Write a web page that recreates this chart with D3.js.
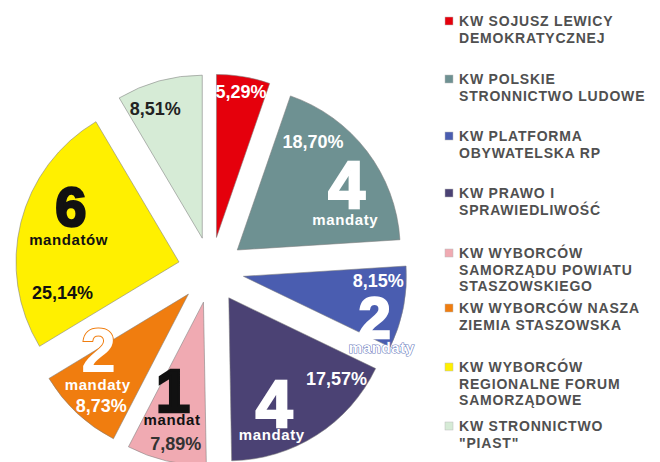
<!DOCTYPE html>
<html>
<head>
<meta charset="utf-8">
<script src="https://cdn.jsdelivr.net/npm/d3@7"></script>
<style>
  body { margin: 0; background: #fff; }
  svg { display: block; font-family: "Liberation Sans", Arial, sans-serif; }
</style>
</head>
<body>
<svg id="chart"></svg>
<script>
// Wyniki wyborów - udział procentowy i mandaty
const parties = [
    ["KW SOJUSZ LEWICY", "DEMOKRATYCZNEJ"],
    ["KW POLSKIE", "STRONNICTWO LUDOWE"],
    ["KW PLATFORMA", "OBYWATELSKA RP"],
    ["KW PRAWO I", "SPRAWIEDLIWOŚĆ"],
    ["KW WYBORCÓW", "SAMORZĄDU POWIATU", "STASZOWSKIEGO"],
    ["KW WYBORCÓW NASZA", "ZIEMIA STASZOWSKA"],
    ["KW WYBORCÓW", "REGIONALNE FORUM", "SAMORZĄDOWE"],
    ["KW STRONNICTWO", "\"PIAST\""]
];
const shares = [5.29, 18.70, 8.15, 17.57, 7.89, 8.73, 25.14, 8.51];
const seats = [0, 4, 2, 4, 1, 2, 6, 0];
const seatWords = ["", "mandaty", "mandaty", "mandaty", "mandat", "mandaty", "mandatów", ""];

const colors = ["#e5000c", "#6e9192", "#4a5db0", "#4b4274", "#f0aab2", "#f07d0f", "#fff000", "#d6ebd6"];

// label placement inside each slice: [fraction of slice angle, fraction of radius]
const pctPos = [[0.525, 0.87], [0.26, 0.78], [0.28, 0.83], [0.21, 0.85], [0.41, 0.92], [0.29, 0.90], [0.15, 0.75], [0.32, 0.81]];
const numPos = [null, [0.74, 0.72, 66], [0.98, 0.89, 58], [0.71, 0.84, 66], [0.58, 0.70, 62], [0.69, 0.73, 63], [0.55, 0.70, 56], null];
const wordPos = [null, [0.86, 0.68], [1.11, 0.97], [0.75, 0.91], [0.54, 0.78], [0.51, 0.81], [0.44, 0.685], null];
const legendY = [26, 84, 141, 198, 258, 313, 372, 431];

const W = 660, H = 462;
const cx = 211, cy = 270, R = 163, explode = 33;

const svg = d3.select("#chart").attr("width", W).attr("height", H);

const pie = d3.pie().sort(null).value(d => d)(shares);
const arc = d3.arc().innerRadius(0).outerRadius(R);

const fmt = v => d3.format(".2f")(v).replace(".", ",") + "%";

const g = svg.append("g").attr("transform", `translate(${cx},${cy})`);

const slices = g.selectAll(".slice")
    .data(pie)
    .enter().append("g")
    .attr("class", "slice")
    .attr("transform", d => {
        const a = (d.startAngle + d.endAngle) / 2;
        return `translate(${explode * Math.sin(a)},${-explode * Math.cos(a)})`;
    });

slices.append("path")
    .attr("d", arc)
    .attr("fill", (d, i) => colors[i])
    .attr("stroke", "#7d7d7d")
    .attr("stroke-opacity", 0.7)
    .attr("stroke-width", 0.8);

// point inside a slice given fraction of angle and radius
function polar(d, t, rf) {
    const a = d.startAngle + t * (d.endAngle - d.startAngle);
    return [rf * R * Math.sin(a), -rf * R * Math.cos(a)];
}

const darkText = i => (i === 4 || i === 6 || i === 7);

slices.each(function (d, i) {
    const s = d3.select(this);
    const txtColor = darkText(i) ? (i === 7 ? "#222" : "#111") : "#fff";

    const p = polar(d, pctPos[i][0], pctPos[i][1]);
    s.append("text")
        .attr("x", p[0]).attr("y", p[1])
        .attr("text-anchor", "middle")
        .style("font-size", "18px")
        .style("font-weight", "bold")
        .attr("fill", i === 4 ? "#333" : txtColor)
        .text(fmt(shares[i]));

    if (numPos[i]) {
        const n = polar(d, numPos[i][0], numPos[i][1]);
        const t = s.append("text")
            .attr("x", n[0]).attr("y", n[1])
            .attr("text-anchor", "middle")
            .style("font-size", numPos[i][2] + "px")
            .style("font-weight", "bold")
            .attr("fill", txtColor)
            .attr("stroke", txtColor)
            .attr("stroke-width", 2.5)
            .text(seats[i]);
        if (i === 5) t.attr("stroke", colors[5]).attr("stroke-width", 2).attr("paint-order", "stroke");

        const w = polar(d, wordPos[i][0], wordPos[i][1]);
        const wt = s.append("text")
            .attr("x", w[0]).attr("y", w[1])
            .attr("text-anchor", "middle")
            .style("font-size", "15px")
            .style("font-weight", "bold")
            .style("letter-spacing", "0.6px")
            .attr("fill", txtColor)
            .text(seatWords[i]);
        if (i === 2) wt.attr("stroke", "#6f7fc0").attr("stroke-width", 1.2).attr("paint-order", "stroke");
    }
});

// legend
const legend = svg.selectAll(".legend")
    .data(parties)
    .enter().append("g")
    .attr("class", "legend")
    .attr("transform", (d, i) => `translate(445,${legendY[i]})`);

legend.append("rect")
    .attr("x", 0)
    .attr("y", -9)
    .attr("width", 8)
    .attr("height", 8)
    .attr("fill", (d, i) => colors[i])
    .attr("stroke", "#bbb")
    .attr("stroke-width", 0.5);

legend.each(function (lines) {
    const t = d3.select(this).append("text")
        .attr("x", 14)
        .style("font-size", "14px")
        .style("font-weight", "bold")
        .style("letter-spacing", "0.8px")
        .attr("fill", "#505050");
    lines.forEach((line, k) => {
        t.append("tspan")
            .attr("x", 14)
            .attr("y", k * 16.5)
            .text(line);
    });
});
</script>
</body>
</html>
